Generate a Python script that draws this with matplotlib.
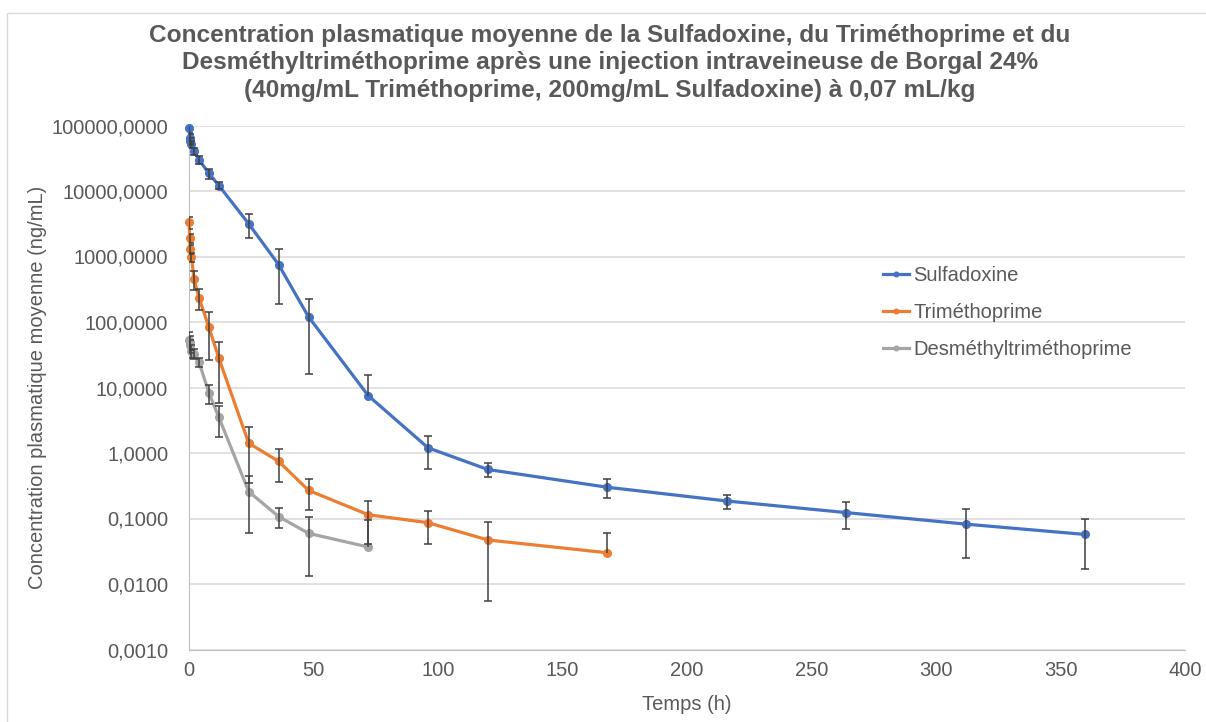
import numpy as np
import matplotlib
matplotlib.use('Agg')
from matplotlib import pyplot as plt
from matplotlib.patches import Rectangle
from matplotlib.ticker import FixedLocator, NullLocator

plt.rcParams['font.family'] = ['Liberation Sans', 'DejaVu Sans']

# time points (h)
t_sulfa = [0.083, 0.25, 0.5, 1, 2, 4, 8, 12, 24, 36, 48, 72, 96, 120, 168, 216, 264, 312, 360]
t_tmp = [0.083, 0.25, 0.5, 1, 2, 4, 8, 12, 24, 36, 48, 72, 96, 120, 168]
t_dmt = [0.083, 0.25, 0.5, 1, 2, 4, 8, 12, 24, 36, 48, 72]

# mean concentrations (ng/mL) and SD
sulfa = [90000, 64000, 58000, 52000, 40500, 30000, 18600, 12100, 3150, 750, 120, 7.5,
         1.2, 0.56, 0.30, 0.185, 0.123, 0.082, 0.057]
sulfa_sd = [12000, 9000, 7000, 6000, 5000, 3800, 3300, 1500, 1250, 560, 104, 8,
            0.64, 0.135, 0.097, 0.043, 0.053, 0.057, 0.040]

tmp = [3330, 1900, 1290, 973, 453, 235, 83, 27.9, 1.41, 0.746, 0.269, 0.114, 0.0863, 0.047, 0.030]
tmp_sd = [730, 300, 200, 150, 140, 85, 57, 22, 1.06, 0.39, 0.135, 0.073, 0.0455, 0.0415, 0.031]

dmt = [54, 50, 44, 36, 33, 24.5, 8.3, 3.5, 0.257, 0.107, 0.0594, 0.0367]
dmt_sd = [17, 12, 10, 8, 6, 4, 2.7, 1.76, 0.196, 0.036, 0.046, 0.058]

series = [('Sulfadoxine', t_sulfa, sulfa, sulfa_sd, '#4472C4'),
          ('Triméthoprime', t_tmp, tmp, tmp_sd, '#ED7D31'),
          ('Desméthyltriméthoprime', t_dmt, dmt, dmt_sd, '#A5A5A5')]

yticks = [0.001, 0.01, 0.1, 1, 10, 100, 1000, 10000, 100000]
xticks = [0, 50, 100, 150, 200, 250, 300, 350, 400]

txt_col = '#595959'
err_col = '#404040'

fig = plt.figure(figsize=(12.06, 7.22), dpi=100)
ax = fig.add_axes([189/1206, 1-649.5/722, (1185-189)/1206, (649.5-125.5)/722])

for name, t, y, sd, col in series:
    t = np.array(t); y = np.array(y); sd = np.array(sd)
    ax.plot(t, y, color=col, lw=2.3, marker='o', ms=5.5, label=name, zorder=3, clip_on=False)
    # error bars (lower part dropped when it would go below zero, as in the source)
    lo = y - sd
    hi = y + sd
    ok = lo > 0
    ax.vlines(t[ok], lo[ok], hi[ok], color=err_col, lw=1.1, zorder=4)
    ax.vlines(t[~ok], y[~ok], hi[~ok], color=err_col, lw=1.1, zorder=4)
    ax.plot(t, hi, ls='none', marker='_', ms=6, mew=1.1, color=err_col, zorder=4)
    ax.plot(t[ok], lo[ok], ls='none', marker='_', ms=6, mew=1.1, color=err_col, zorder=4)

ax.set_yscale('log')
ax.set_ylim(0.001, 100000)
ax.set_xlim(0, 400)
ax.yaxis.set_major_locator(FixedLocator(yticks))
ax.yaxis.set_minor_locator(NullLocator())
ax.set_yticklabels([('%.4f' % v).replace('.', ',') for v in yticks])
ax.set_xticks(xticks)
ax.set_xticklabels([str(v) for v in xticks])
ax.tick_params(axis='both', length=0, labelsize=14.5, labelcolor=txt_col)
ax.tick_params(axis='y', pad=15)
ax.tick_params(axis='x', pad=8)

ax.grid(True, axis='y', color='#D9D9D9', lw=1.1)
ax.set_axisbelow(True)
for s in ['top', 'right']:
    ax.spines[s].set_visible(False)
ax.spines['left'].set_color('#BFBFBF')
ax.spines['bottom'].set_color('#BFBFBF')

ax.set_xlabel('Temps (h)', fontsize=14.5, color=txt_col, labelpad=11)
ax.set_ylabel('Concentration plasmatique moyenne (ng/mL)', fontsize=14.5, color=txt_col, labelpad=3)

fig.text(610/1206, 1-63/722,
         'Concentration plasmatique moyenne de la Sulfadoxine, du Triméthoprime et du\n'
         'Desméthyltriméthoprime après une injection intraveineuse de Borgal 24%\n'
         '(40mg/mL Triméthoprime, 200mg/mL Sulfadoxine) à 0,07 mL/kg',
         ha='center', va='center', fontsize=17.6, fontweight='bold', color=txt_col,
         linespacing=1.24)

leg = ax.legend(loc='upper left', bbox_to_anchor=((883-189)/996, (649.5-266)/524),
                frameon=False, fontsize=14.5, handlelength=1.3, handletextpad=0.2,
                labelspacing=0.9, borderpad=0, borderaxespad=0, markerscale=0.6)
for t in leg.get_texts():
    t.set_color(txt_col)

fig.add_artist(Rectangle((7/1206, -0.05), 1.2, 1-13/722+0.05, transform=fig.transFigure,
                         fill=False, ec='#D9D9D9', lw=1))

fig.savefig('out.png', dpi=100)
